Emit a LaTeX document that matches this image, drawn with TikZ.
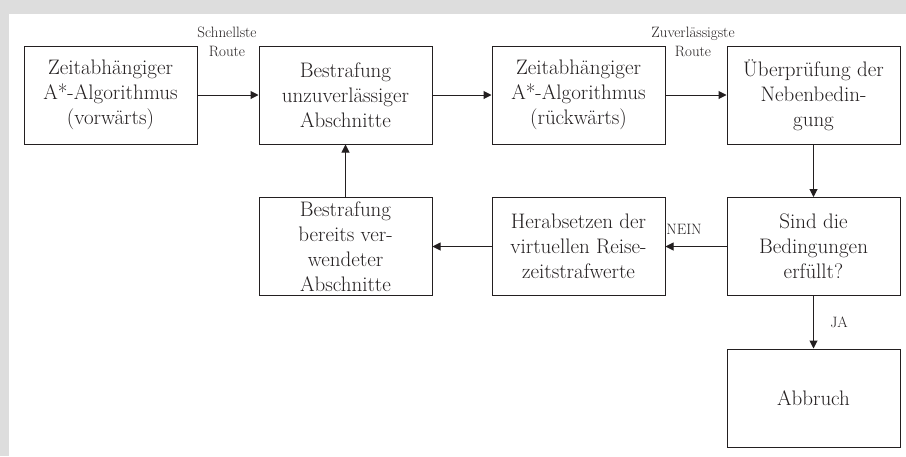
\documentclass[tikz,border=0pt]{standalone}
\usetikzlibrary{arrows.meta}
\definecolor{framegray}{RGB}{221,221,221}
\definecolor{ink}{RGB}{35,31,32}
\begin{document}
\begin{tikzpicture}[x=1pt,y=-1pt,
  box/.style={draw=ink, line width=1pt, minimum width=173pt, minimum height=98pt,
    align=center, inner sep=2pt, font=\fontsize{21}{25}\selectfont, text=ink},
  lbl/.style={font=\fontsize{15}{19}\selectfont, align=center, text=ink},
  conn/.style={draw=ink, line width=1pt, -{Triangle[length=8pt,width=8pt]}}]
\useasboundingbox (0,0) rectangle (906,456);
\fill[framegray] (0,0) rectangle (906,456);
\fill[white] (9,14) rectangle (906,456);
\node[box] (a1) at (110.5,95) {Zeitabhängiger\\A*-Algorithmus\\(vorwärts)};
\node[box] (a2) at (345.5,95) {Bestrafung\\unzuverlässiger\\Abschnitte};
\node[box] (a3) at (578.5,95) {Zeitabhängiger\\A*-Algorithmus\\(rückwärts)};
\node[box] (a4) at (813.5,95) {Überprüfung der\\Nebenbedin-\\gung};
\node[box] (b2) at (345.5,246.5) {Bestrafung\\bereits ver-\\wendeter\\Abschnitte};
\node[box] (b3) at (578.5,246.5) {Herabsetzen der\\virtuellen Reise-\\zeitstrafwerte};
\node[box] (b4) at (813.5,246.5) {Sind die\\Bedingungen\\erfüllt?};
\node[box] (c4) at (813.5,398) {Abbruch};
\draw[conn] (a1) -- (a2);
\draw[conn] (a2) -- (a3);
\draw[conn] (a3) -- (a4);
\draw[conn] (a4) -- (b4);
\draw[conn] (b4) -- (b3);
\draw[conn] (b3) -- (b2);
\draw[conn] (b2) -- (a2);
\draw[conn] (b4) -- (c4);
\node[lbl] (l1) at (227,42) {Schnellste\\Route};
\node[lbl] (l2) at (693,42) {Zuverlässigste\\Route};
\node[lbl] (l3) at (684,229) {NEIN};
\node[lbl] (l4) at (839,322) {JA};
\end{tikzpicture}
\end{document}
